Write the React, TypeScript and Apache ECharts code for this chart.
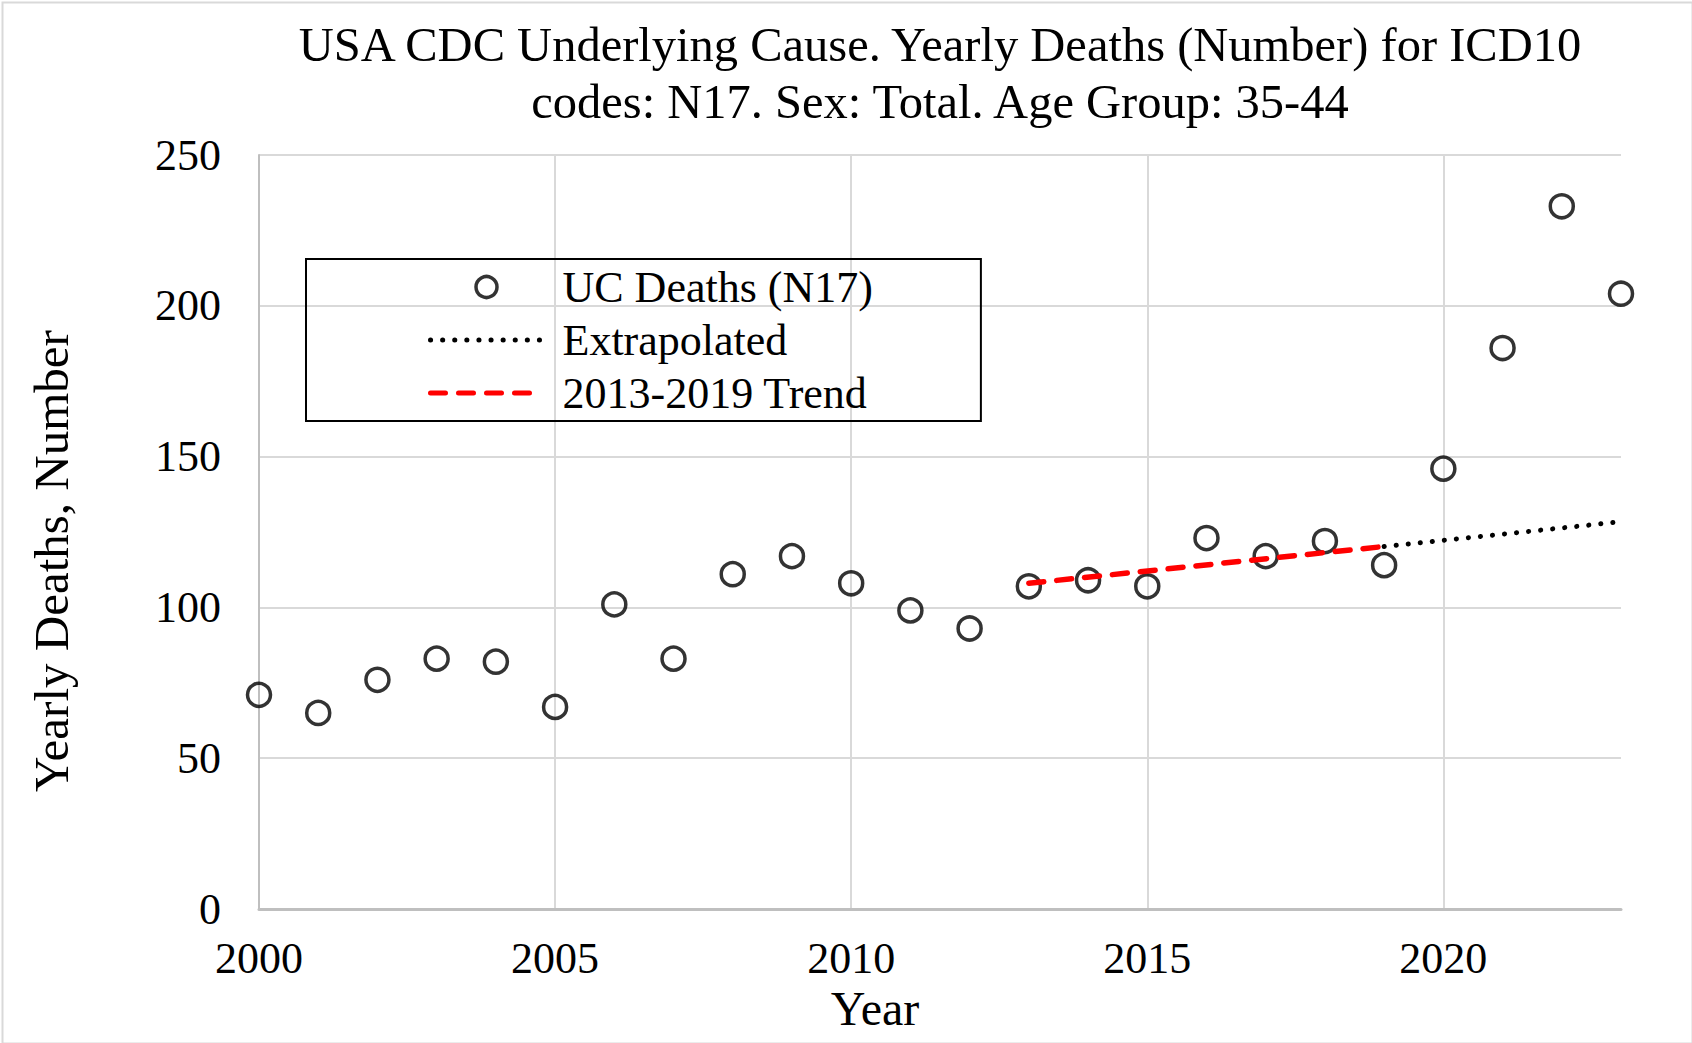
import React, { useEffect, useRef } from "react";
import * as echarts from "echarts";

const FONT = "'Liberation Serif', 'DejaVu Serif', serif";

const years = [2000, 2001, 2002, 2003, 2004, 2005, 2006, 2007, 2008, 2009, 2010, 2011, 2012, 2013, 2014, 2015, 2016, 2017, 2018, 2019, 2020, 2021, 2022, 2023];
const deaths = [71, 65, 76, 83, 82, 67, 101, 83, 111, 117, 108, 99, 93, 107, 109, 107, 123, 117, 122, 114, 146, 186, 233, 204];

const trendYears = [2013, 2019];
const trendValues = [108.0, 120.2];
const extrapYears = [2019, 2023];
const extrapValues = [120.2, 128.4];

const yTicks = [0, 50, 100, 150, 200, 250];
const xTickStep = 5;

const titleText = "USA CDC Underlying Cause. Yearly Deaths (Number) for ICD10\ncodes: N17. Sex: Total. Age Group: 35-44";
const seriesNames = ["UC Deaths (N17)", "Extrapolated", "2013-2019 Trend"];

export default function App() {
  const ref = useRef<HTMLDivElement>(null);
  useEffect(() => {
    if (!ref.current) return;
    const chart = echarts.init(ref.current, null, { renderer: "svg" });
    chart.setOption({
      animation: false,
      backgroundColor: "#ffffff",
      title: {
        text: titleText,
        left: 940,
        textAlign: "center",
        top: 16,
        padding: 0,
        textStyle: { fontFamily: FONT, fontSize: 48.5, fontWeight: "normal", color: "#000", lineHeight: 57 },
      },
      grid: { left: 259, right: 71, top: 155, bottom: 134 },
      legend: {
        orient: "vertical",
        left: 306,
        top: 259,
        padding: [6, 108, 6, 122],
        borderColor: "#000",
        borderWidth: 2,
        itemWidth: 112,
        itemHeight: 21,
        itemGap: 9,
        symbolKeepAspect: true,
        textStyle: { fontFamily: FONT, fontSize: 44, color: "#000", padding: [0, 0, 0, 15] },
        data: [
          { name: seriesNames[0], itemStyle: { borderWidth: 3.5, borderColor: "#000", color: "rgba(0,0,0,0)" } },
          { name: seriesNames[1], itemStyle: { opacity: 0 }, lineStyle: { width: 5 } },
          { name: seriesNames[2], itemStyle: { opacity: 0 }, lineStyle: { width: 5 } },
        ],
      },
      xAxis: {
        type: "value",
        min: years[0],
        max: years[years.length - 1],
        interval: xTickStep,
        axisLine: { show: true, lineStyle: { color: "#bfbfbf", width: 3 } },
        axisTick: { show: false },
        axisLabel: { fontFamily: FONT, fontSize: 44, color: "#000", margin: 27, showMaxLabel: false, formatter: (v: number) => String(v) },
        splitLine: { show: true, showMaxLine: false, lineStyle: { color: "#d9d9d9", width: 2 } },
      },
      yAxis: {
        type: "value",
        min: yTicks[0],
        max: yTicks[yTicks.length - 1],
        interval: yTicks[1] - yTicks[0],
        axisLine: { show: true, lineStyle: { color: "#bfbfbf", width: 2 } },
        axisTick: { show: false },
        axisLabel: { fontFamily: FONT, fontSize: 44, color: "#000", margin: 38 },
        splitLine: { show: true, lineStyle: { color: "#d9d9d9", width: 2 } },
      },
      graphic: [
        {
          type: "rect",
          left: 0,
          top: 0,
          shape: { width: 1690, height: 1041 },
          style: { fill: "none", stroke: "#d9d9d9", lineWidth: 2 },
          silent: true,
        },
        {
          type: "text",
          x: 875,
          y: 1008,
          style: { text: "Year", fontFamily: FONT, fontSize: 48, fill: "#000", textAlign: "center", textVerticalAlign: "middle" },
        },
        {
          type: "text",
          x: 51,
          y: 561,
          rotation: Math.PI / 2,
          style: { text: "Yearly Deaths, Number", fontFamily: FONT, fontSize: 49, fill: "#000", textAlign: "center", textVerticalAlign: "middle" },
        },
      ],
      series: [
        {
          name: seriesNames[0],
          type: "scatter",
          symbol: "circle",
          symbolSize: 23,
          itemStyle: { color: "rgba(0,0,0,0)", borderColor: "#000", borderWidth: 3.5 },
          data: years.map((y, i) => [y, deaths[i]]),
          z: 2,
        },
        {
          name: seriesNames[1],
          type: "line",
          symbol: "none",
          showSymbol: false,
          lineStyle: { color: "#000", width: 5, type: [0.1, 12], cap: "round" },
          itemStyle: { color: "#000" },
          data: extrapYears.map((y, i) => [y, extrapValues[i]]),
          z: 3,
        },
        {
          name: seriesNames[2],
          type: "line",
          symbol: "none",
          showSymbol: false,
          lineStyle: { color: "#ff0000", width: 5.5, type: [15, 13], cap: "round" },
          itemStyle: { color: "#ff0000" },
          data: trendYears.map((y, i) => [y, trendValues[i]]),
          z: 4,
        },
      ],
    });
    return () => chart.dispose();
  }, []);
  return <div ref={ref} style={{ position: "fixed", left: 0, top: 0, width: 1692, height: 1043 }} />;
}
